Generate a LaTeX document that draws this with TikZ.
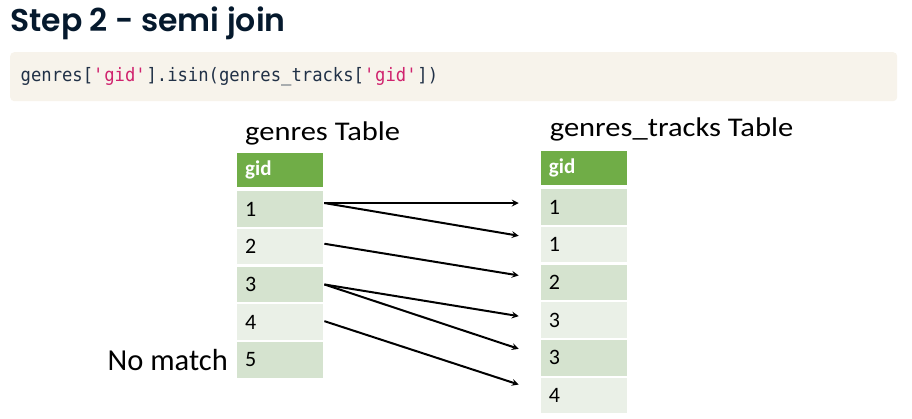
\documentclass[tikz,border=0pt]{standalone}
\usepackage{xcolor}
\usepackage{tikz}
\usepackage{fontspec}
\setmainfont{Carlito}
\newfontfamily\titlefont{Poppins}[BoldFont={Poppins SemiBold}]
\newfontfamily\widefont{Carlito}[FakeStretch=1.13]
\newfontfamily\codefont{DejaVu Sans Mono}[FakeStretch=0.93]
\definecolor{titlenavy}{RGB}{5, 25, 45}
\definecolor{codebg}{RGB}{247, 243, 235}
\definecolor{codetext}{RGB}{33, 49, 71}
\definecolor{codepink}{RGB}{208, 35, 110}
\definecolor{headgreen}{RGB}{112, 173, 71}
\definecolor{rowdark}{RGB}{213, 227, 207}
\definecolor{rowlight}{RGB}{234, 240, 231}
\usetikzlibrary{arrows,positioning,calc}

\begin{document}
\begin{tikzpicture}[
    x=1pt, y=-1pt,
    cell/.style={
        rectangle,
        minimum height=35.5pt,
        text width=70pt,
        inner xsep=8pt,
        inner ysep=0pt,
        align=left,
        font=\fontsize{22}{26}\selectfont
    },
    head/.style={cell, fill=headgreen, minimum height=34pt, text=white,
        font=\fontsize{21}{24}\selectfont\bfseries},
    dark/.style={cell, fill=rowdark},
    light/.style={cell, fill=rowlight},
    tabtitle/.style={inner sep=0pt, anchor=base west, font=\widefont\fontsize{27}{30}\selectfont},
    arrow/.style={->,>=stealth,line width=2pt}
]
    \useasboundingbox (0,0) rectangle (912,419);
    % Heading and code line
    \node[anchor=base west, inner sep=0pt, text=titlenavy,
        font=\titlefont\bfseries\fontsize{31.5}{36}\selectfont] (title) at (10,32) {Step 2 - semi join};
    \node[anchor=north west, fill=codebg, rounded corners=4pt, minimum height=49pt,
        text width=866pt, inner xsep=10.5pt, align=left, text=codetext,
        font=\codefont\fontsize{18.5}{22}\selectfont] (code) at (10,52)
        {genres[\textcolor{codepink}{\textquotesingle gid\textquotesingle}].isin(genres\_tracks[\textcolor{codepink}{\textquotesingle gid\textquotesingle}])};

    % genres table
    \node[head, anchor=north west] (ghead) at (237,152.7) {gid};
    \node[dark, below=4pt of ghead] (g1) {1};
    \node[light, below=1.8pt of g1] (g2) {2};
    \node[dark, below=1.8pt of g2] (g3) {3};
    \node[light, below=1.8pt of g3] (g4) {4};
    \node[dark, below=1.8pt of g4] (g5) {5};
    \node[tabtitle] (gtitle) at ([xshift=8pt,yshift=12pt]ghead.north west) {genres Table};
    \node[left=9pt of g5, inner sep=0pt, font=\fontsize{30.5}{34}\selectfont] (nomatch) {No match};

    % genres_tracks table
    \node[head, anchor=north west] (thead) at (540.7,150.7) {gid};
    \node[dark, below=4pt of thead] (t1) {1};
    \node[light, below=1.8pt of t1] (t2) {1};
    \node[dark, below=1.8pt of t2] (t3) {2};
    \node[light, below=1.8pt of t3] (t4) {3};
    \node[dark, below=1.8pt of t4] (t5) {3};
    \node[light, below=1.8pt of t5] (t6) {4};
    \node[tabtitle] (ttitle) at ([xshift=9pt,yshift=14pt]thead.north west) {genres\_tracks Table};

    % Matches
    \draw[arrow] ([xshift=1pt,yshift=6pt]g1.east) -- ([xshift=-22pt,yshift=4pt]t1.west);
    \draw[arrow] ([xshift=1pt,yshift=6pt]g1.east) -- ([xshift=-22pt,yshift=9pt]t2.west);
    \draw[arrow] ([xshift=1pt,yshift=3pt]g2.east) -- ([xshift=-22pt,yshift=7pt]t3.west);
    \draw[arrow] ([xshift=1pt]g3.east) -- ([xshift=-22pt,yshift=4pt]t4.west);
    \draw[arrow] ([xshift=1pt]g3.east) -- ([xshift=-22pt,yshift=9pt]t5.west);
    \draw[arrow] ([xshift=1pt,yshift=1pt]g4.east) -- ([xshift=-22pt,yshift=11pt]t6.west);
\end{tikzpicture}
\end{document}
